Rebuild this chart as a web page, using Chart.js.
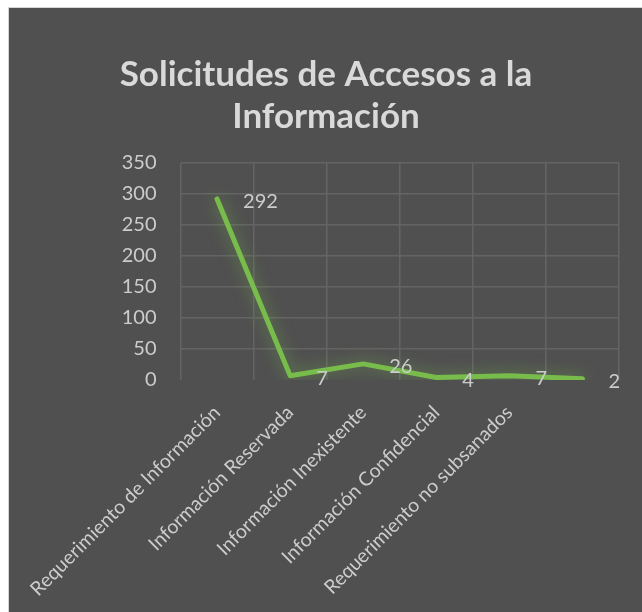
<!DOCTYPE html>
<html>
<head>
<meta charset="utf-8">
<script src="https://cdn.jsdelivr.net/npm/chart.js@4"></script>
<style>
  html, body { margin: 0; padding: 0; background: #ffffff; overflow: hidden; }
  #frame {
    position: absolute; left: 8px; top: 7px;
    border-left: 1px solid #d4d4d4; border-top: 1px solid #d4d4d4;
  }
  canvas { display: block; }
</style>
</head>
<body>
<div id="frame"><canvas id="chart" width="645" height="604"></canvas></div>
<script>
// chart data
const categories = [
  "Requerimiento de Información",
  "Información Reservada",
  "Información Inexistente",
  "Información Confidencial",
  "Requerimiento no subsanados",
  ""
];
const solicitudes = [292, 7, 26, 4, 7, 2];
const yTicks = [0, 50, 100, 150, 200, 250, 300, 350];

const FONT = "Lato, 'Open Sans', sans-serif";
const TEXT = "#cccccc";
const LINE = "#78bd4b";
const GRID = "#646464";

// paint the dark chart background
const bgPlugin = {
  id: "bg",
  beforeDraw(chart) {
    const ctx = chart.ctx;
    ctx.save();
    ctx.fillStyle = "#505050";
    ctx.fillRect(0, 0, chart.width, chart.height);
    ctx.restore();
  }
};

// soft green glow under the line
const glowPlugin = {
  id: "glow",
  beforeDatasetDraw(chart) {
    const ctx = chart.ctx;
    ctx.save();
    ctx.shadowColor = "rgba(120, 189, 75, 0.6)";
    ctx.shadowBlur = 16;
  },
  afterDatasetDraw(chart) {
    chart.ctx.restore();
  }
};

// value labels to the right of each point
const valueLabels = {
  id: "valueLabels",
  afterDatasetsDraw(chart) {
    const ctx = chart.ctx;
    const meta = chart.getDatasetMeta(0);
    ctx.save();
    ctx.font = "20px " + FONT;
    ctx.fillStyle = TEXT;
    ctx.textAlign = "left";
    ctx.textBaseline = "middle";
    meta.data.forEach((pt, i) => {
      ctx.fillText(String(solicitudes[i]), pt.x + 26, pt.y + 3);
    });
    ctx.restore();
  }
};

const ctx = document.getElementById("chart").getContext("2d");
new Chart(ctx, {
  type: "line",
  data: {
    labels: categories,
    datasets: [
      {
        label: "Solicitudes",
        data: solicitudes,
        borderColor: LINE,
        borderWidth: 5,
        borderCapStyle: "round",
        borderJoinStyle: "round",
        pointRadius: 0,
        tension: 0,
        fill: false
      }
    ]
  },
  options: {
    responsive: false,
    animation: false,
    layout: { padding: { left: 24, right: 35, top: 0, bottom: 0 } },
    plugins: {
      legend: { display: false },
      tooltip: { enabled: false },
      title: {
        display: true,
        text: ["Solicitudes de Accesos a la", "Información"],
        color: "#d9d9d9",
        font: { family: FONT, size: 35, weight: "bold", lineHeight: 1.2 },
        padding: { top: 46, bottom: 25 }
      }
    },
    scales: {
      x: {
        offset: true,
        afterFit(axis) {
          axis.height = 232;
          axis.paddingLeft = 0;
          axis.paddingRight = 0;
        },
        grid: { offset: true, color: GRID, lineWidth: 1.5, drawTicks: false },
        border: { display: false },
        ticks: {
          autoSkip: false,
          maxRotation: 45,
          minRotation: 45,
          padding: 21,
          labelOffset: 0,
          color: TEXT,
          font: { family: FONT, size: 19.5 }
        }
      },
      y: {
        min: 0,
        max: 350,
        afterFit(axis) { axis.width = 147.5; },
        afterBuildTicks(axis) {
          axis.ticks = yTicks.map(v => ({ value: v }));
        },
        grid: {
          color: c => (c.tick && c.tick.value === 0 ? "rgba(0,0,0,0)" : GRID),
          lineWidth: 1.5,
          drawTicks: false
        },
        border: { display: false },
        ticks: {
          padding: 24,
          color: TEXT,
          font: { family: FONT, size: 20 }
        }
      }
    }
  },
  plugins: [bgPlugin, glowPlugin, valueLabels]
});
</script>
</body>
</html>
